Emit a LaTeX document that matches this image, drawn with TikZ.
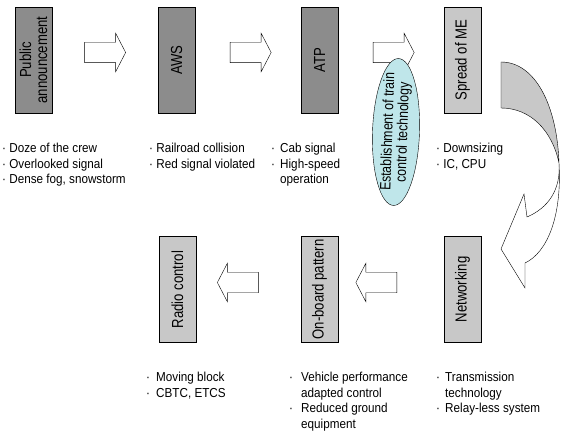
\documentclass[tikz,border=0pt]{standalone}
\usepackage{fontspec}
\setmainfont{Liberation Sans}[FakeStretch=0.82]
\newfontfamily\notefont{Liberation Sans}[FakeStretch=0.9]
\usetikzlibrary{shapes.arrows}
\definecolor{boxdark}{RGB}{140,140,140}
\definecolor{boxlight}{RGB}{200,200,200}
\definecolor{ovalcyan}{RGB}{191,230,234}
\tikzset{
  stage/.style={draw,rotate=90,minimum width=106pt,minimum height=37pt,
    inner sep=0pt,align=center,font=\fontsize{16}{16}\selectfont},
  blockarrow/.style={draw,fill=white,single arrow,single arrow head extend=9pt,
    single arrow tip angle=125,minimum height=41pt,inner xsep=0pt,inner ysep=10pt},
  notes/.style={anchor=north west,align=left,inner sep=0pt,
    font=\notefont\fontsize{13}{15.5}\selectfont},
}
\newcommand{\dotitem}[1]{\makebox[#1][l]{·}}
\begin{document}
\begin{tikzpicture}[x=1pt,y=-1pt]
    \def\x{143}
    \def\y{229.5}
    \useasboundingbox (0,0) rectangle (564,435);
    % stages
    \node[stage,fill=boxdark] (A0_0) at (33.5+0*\x, 60) {Public\\announcement};
    \node[stage,fill=boxdark] (A0_1) at (33.5+1*\x, 60) {AWS};
    \node[stage,fill=boxdark] (A0_2) at (33.5+2*\x, 60) {ATP};
    \node[stage,fill=boxlight] (A0_3) at (33.5+3*\x, 60) {Spread of ME};
    \node[stage,fill=boxlight] (A1_1) at (34.5+1*\x, 60+\y) {Radio control};
    \node[stage,fill=boxlight] (A1_2) at (33.5+2*\x, 60+\y) {On-board pattern};
    \node[stage,fill=boxlight] (A1_3) at (33.5+3*\x, 60+\y) {Networking};
    % block arrows
    \node[blockarrow] (R0_0) at (102.5, 52.5) {};
    \node[blockarrow] (R0_1) at (248, 52.5) {};
    \node[blockarrow] (R0_2) at (391, 52.5) {};
    \node[blockarrow,rotate=180] (R1_1) at (240.5, 282.5) {};
    \node[blockarrow,rotate=180] (R1_2) at (379, 282.5) {};
    % oval
    \draw[fill=ovalcyan,rotate around={-2:(396,132)}] (396,132) ellipse [x radius=23.5, y radius=73.5];
    \node[rotate=88,align=center,inner sep=0pt,font=\fontsize{15}{15}\selectfont] (E) at (396,132)
      {Establishment of train\\control technology};
    % turning arrow
    \draw[fill=boxlight] (501,62) .. controls (535,62) and (557,105) .. (559,163)
      .. controls (552,130) and (530,108) .. (501,108) -- cycle;
    \draw[fill=white] (559,163) .. controls (562,215) and (548,252) .. (525,263)
      -- (525,288) -- (501,249) -- (524,194) -- (527,217)
      .. controls (548,208) and (561,190) .. (559,163) -- cycle;
    % notes
    \node[notes] (N0_0) at (2,143) {· Doze of the crew\\· Overlooked signal\\· Dense fog, snowstorm};
    \node[notes] (N0_1) at (149,143) {· Railroad collision\\· Red signal violated};
    \node[notes] (N0_2) at (271,143) {\dotitem{9pt}Cab signal\\\dotitem{9pt}High-speed\\\hspace*{9pt}operation};
    \node[notes] (N0_3) at (436,143) {· Downsizing\\· IC, CPU};
    \node[notes] (N1_1) at (146,372) {\dotitem{10pt}Moving block\\\dotitem{10pt}CBTC, ETCS};
    \node[notes] (N1_2) at (289,372) {\dotitem{12pt}Vehicle performance\\\hspace*{12pt}adapted control\\\dotitem{12pt}Reduced ground\\\hspace*{12pt}equipment};
    \node[notes] (N1_3) at (436,372) {\dotitem{9pt}Transmission\\\hspace*{9pt}technology\\\dotitem{9pt}Relay-less system};
  \end{tikzpicture}
\end{document}
